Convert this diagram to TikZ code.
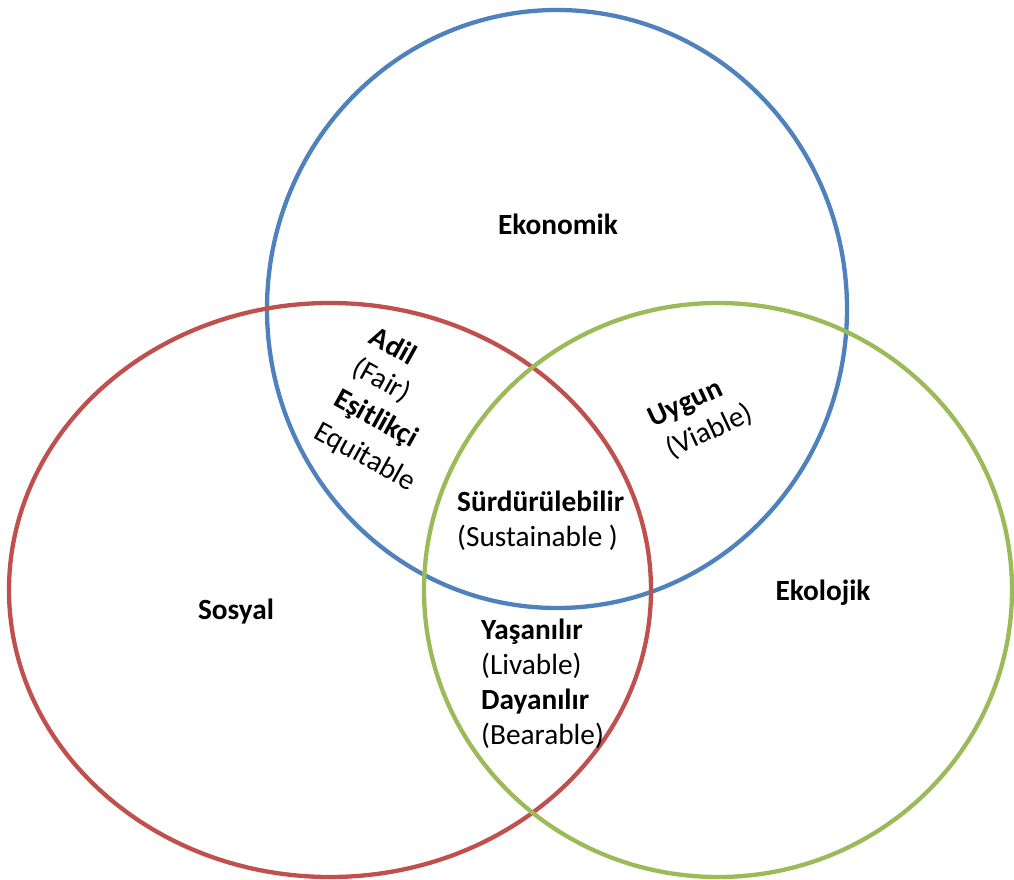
\documentclass[tikz,border=0pt]{standalone}
\usepackage{fontspec}
\setmainfont{Carlito}
\definecolor{ekoblue}{HTML}{4F81BD}
\definecolor{sosred}{HTML}{C0504D}
\definecolor{ekogreen}{HTML}{9BBB59}
\begin{document}
\begin{tikzpicture}[x=1pt,y=-1pt,
  ring/.style={line width=4.3pt},
  lbl/.style={font=\fontsize{29.3}{34}\selectfont\bfseries, inner sep=0pt, anchor=mid},
  sub/.style={font=\fontsize{29.3}{34}\selectfont, inner sep=0pt, anchor=mid}]
\useasboundingbox (0,0) rectangle (1014,880);
% circles
\draw[ring, ekoblue] (557,309) ellipse [x radius=290pt, y radius=299pt];
\draw[ring, sosred] (330,590) ellipse [x radius=321pt, y radius=287pt];
\draw[ring, ekogreen] (718,590) ellipse [x radius=294pt, y radius=287pt];
% main labels
\node[lbl] (ekonomik) at (558,232) {Ekonomik};
\node[lbl] (sosyal) at (236,617) {Sosyal};
\node[lbl] (ekolojik) at (823,598) {Ekolojik};
% center
\node[lbl, anchor=base west] (surd) at (457,511) {Sürdürülebilir};
\node[sub, anchor=base west] (sust) at (457,546) {(Sustainable )};
% social-ecological
\node[lbl, anchor=base west] (yasan) at (481,639) {Yaşanılır};
\node[sub, anchor=base west] (livable) at (481,674) {(Livable)};
\node[lbl, anchor=base west] (dayan) at (481,709) {Dayanılır};
\node[sub, anchor=base west] (bear) at (481,744) {(Bearable)};
% social-economic (rotated)
\node[lbl, rotate=-29] (adil) at (390,352) {Adil};
\node[sub, rotate=-29] (fair) at (379,386) {(Fair)};
\node[lbl, rotate=-29] (esit) at (373,424) {Eşitlikçi};
\node[sub, rotate=-29] (equit) at (362,462) {Equitable};
% economic-ecological (rotated)
\node[lbl, rotate=25] (uygun) at (688,409) {Uygun};
\node[sub, rotate=25] (viable) at (712,437) {(Viable)};
\end{tikzpicture}
\end{document}
